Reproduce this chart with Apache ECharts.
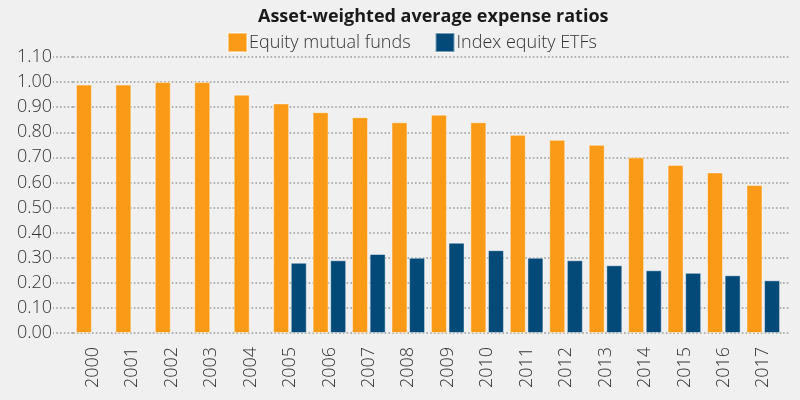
<!DOCTYPE html>
<html>
<head>
<meta charset="utf-8">
<script src="https://cdn.jsdelivr.net/npm/echarts@6/dist/echarts.min.js"></script>
<style>
html,body{margin:0;padding:0;background:#f0f0f0;}
#chart{width:800px;height:400px;}
</style>
</head>
<body>
<div id="chart"></div>
<script>
const years = ['2000','2001','2002','2003','2004','2005','2006','2007','2008','2009','2010','2011','2012','2013','2014','2015','2016','2017'];
const equityMutualFunds = [0.99,0.99,1.00,1.00,0.95,0.915,0.88,0.86,0.84,0.87,0.84,0.79,0.77,0.75,0.70,0.67,0.64,0.59];
const indexEquityETFs = [null,null,null,null,null,0.28,0.29,0.315,0.30,0.36,0.33,0.30,0.29,0.27,0.25,0.24,0.23,0.21];
const titleText = 'Asset-weighted average expense ratios';
const seriesNames = ['Equity mutual funds','Index equity ETFs'];

const FONT = '"Open Sans", "Noto Sans", sans-serif';
const dotted = {color:'#9a9a9a', width:1.6, type:[1.6,2.2]};
const chart = echarts.init(document.getElementById('chart'));
chart.setOption({
  backgroundColor:'#f0f0f0',
  animation:false,
  textStyle:{fontFamily:FONT},
  title:{
    text:titleText, left:253, top:3,
    textStyle:{fontFamily:FONT, fontSize:18, fontWeight:'bold', color:'#1a1a1a'}
  },
  legend:{
    left:222, top:27, itemWidth:19, itemHeight:19, itemGap:24,
    icon:'rect',
    textStyle:{fontFamily:FONT, fontSize:18, fontWeight:300, color:'#333', padding:[0,0,0,-3]},
    data:seriesNames
  },
  grid:{left:73, right:17, top:57, bottom:67},
  xAxis:{
    type:'category', data:years,
    axisLine:{show:false}, axisTick:{show:false},
    axisLabel:{rotate:90, margin:14, fontSize:18, fontWeight:300, color:'#333', fontFamily:FONT}
  },
  yAxis:[{
    type:'value', min:0, max:1.1, interval:0.1,
    axisLine:{show:false},
    axisTick:{show:true, length:20, lineStyle:dotted},
    axisLabel:{margin:21, fontSize:18, fontWeight:300, color:'#333', fontFamily:FONT, formatter:v=>v.toFixed(2)},
    splitLine:{show:true, lineStyle:dotted}
  },{
    type:'value', position:'right', min:0, max:1.1, interval:0.1,
    axisLine:{show:false},
    axisTick:{show:true, length:7, lineStyle:dotted},
    axisLabel:{show:false}, splitLine:{show:false}
  }],
  series:[{
    name:seriesNames[0], type:'bar', data:equityMutualFunds,
    barWidth:16, barGap:'10%',
    itemStyle:{color:'#fb9a17', borderColor:'rgba(255,255,255,0.45)', borderWidth:1}
  },{
    name:seriesNames[1], type:'bar', data:indexEquityETFs,
    barWidth:16,
    itemStyle:{color:'#034a79', borderColor:'rgba(255,255,255,0.45)', borderWidth:1}
  }]
});
</script>
</body>
</html>
